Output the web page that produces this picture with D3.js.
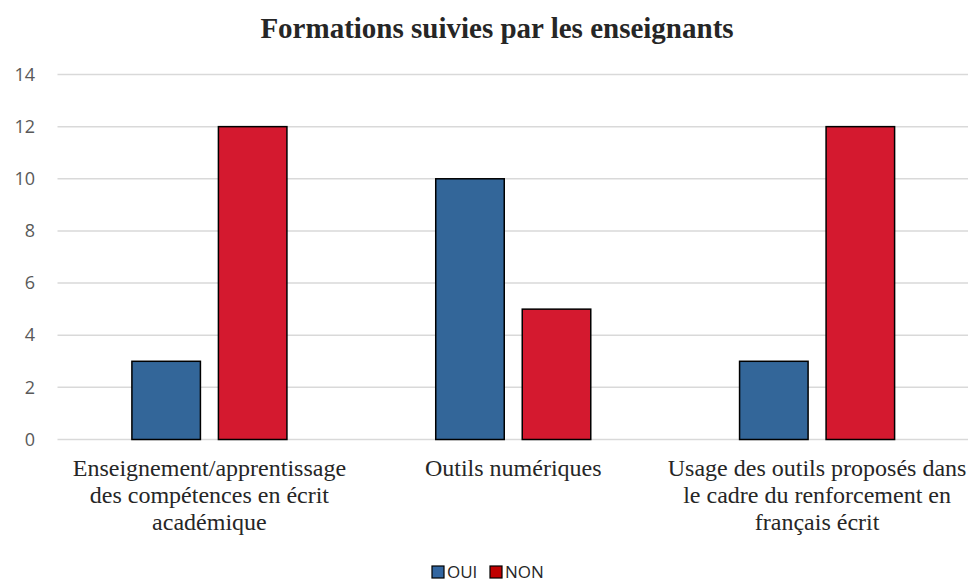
<!DOCTYPE html>
<html>
<head>
<meta charset="utf-8">
<script src="https://cdn.jsdelivr.net/npm/d3@7"></script>
<style>
  body { margin: 0; background: #fff; }
  svg { display: block; }
</style>
</head>
<body>
<div class="chart"></div>
<script>
// data
var categories = [
  "Enseignement/apprentissage des compétences en écrit académique",
  "Outils numériques",
  "Usage des outils proposés dans le cadre du renforcement en français écrit"
];
// wrapped label lines, as shown under each group
var categoryLines = [
  ["Enseignement/apprentissage", "des compétences en écrit", "académique"],
  ["Outils numériques"],
  ["Usage des outils proposés dans", "le cadre du renforcement en", "français écrit"]
];
var seriesNames = ["OUI", "NON"];
var oui = [3, 10, 3];
var non = [12, 5, 12];
var yTicks = [0, 2, 4, 6, 8, 10, 12, 14];

var width = 968, height = 584;
var barColors = { OUI: "#336699", NON: "#D4192F" };
var legendColors = { OUI: "#3366A0", NON: "#C00000" };

var svg = d3.select(".chart").append("svg")
    .attr("width", width)
    .attr("height", height);

// title
svg.append("text")
  .attr("x", 497)
  .attr("y", 38)
  .attr("text-anchor", "middle")
  .style("font-family", "'Liberation Serif', 'Times New Roman', serif")
  .style("font-weight", "bold")
  .style("font-size", "29px")
  .style("fill", "#262626")
  .text("Formations suivies par les enseignants");

var x = d3.scaleBand()
    .domain(categories)
    .range([57.5, 969]);

var y = d3.scaleLinear()
    .domain([0, 14])
    .range([439.5, 74.5]);

// grid lines
svg.append("g").selectAll("line")
  .data(yTicks)
  .enter().append("line")
    .attr("x1", 57.5)
    .attr("x2", width)
    .attr("y1", function(d) { return y(d); })
    .attr("y2", function(d) { return y(d); })
    .attr("stroke", "#d9d9d9")
    .attr("stroke-width", 1.5);

// y axis labels
var yAxis = d3.axisLeft(y).tickValues(yTicks).tickSize(0).tickPadding(0);
var yg = svg.append("g")
    .attr("transform", "translate(35,0)")
    .call(yAxis);
yg.select(".domain").remove();
yg.selectAll("text")
  .style("font-family", "'Open Sans', 'Liberation Sans', sans-serif")
  .style("font-size", "18px")
  .style("fill", "#595959");

// bars
var rows = categories.map(function(c, i) {
  return { cat: c, values: [ { key: "OUI", v: oui[i] }, { key: "NON", v: non[i] } ] };
});

var inner = d3.scaleBand()
    .domain(seriesNames)
    .range([0, x.bandwidth()])
    .paddingInner(0.208)
    .paddingOuter(0.86);

var groups = svg.append("g").selectAll("g")
  .data(rows)
  .enter().append("g")
    .attr("transform", function(d) { return "translate(" + x(d.cat) + ",0)"; });

groups.selectAll("rect")
  .data(function(d) { return d.values; })
  .enter().append("rect")
    .attr("x", function(d) { return inner(d.key); })
    .attr("y", function(d) { return y(d.v); })
    .attr("width", inner.bandwidth())
    .attr("height", function(d) { return y(0) - y(d.v); })
    .attr("fill", function(d) { return barColors[d.key]; })
    .attr("stroke", "#000")
    .attr("stroke-width", 1.5);

// category labels
var labels = svg.append("g").selectAll("text")
  .data(categories)
  .enter().append("text")
    .attr("x", function(d) { return x(d) + x.bandwidth() / 2; })
    .attr("y", 476)
    .attr("text-anchor", "middle")
    .style("font-family", "'Liberation Serif', 'Times New Roman', serif")
    .style("font-size", "24px")
    .style("fill", "#262626");

labels.each(function(d, i) {
  var t = d3.select(this);
  categoryLines[i].forEach(function(line, j) {
    t.append("tspan")
      .attr("x", x(d) + x.bandwidth() / 2)
      .attr("dy", j === 0 ? 0 : 27)
      .text(line);
  });
});

// legend
var legendX = [432, 490];
var legend = svg.append("g").selectAll("g")
  .data(seriesNames)
  .enter().append("g")
    .attr("transform", function(d, i) { return "translate(" + legendX[i] + ",566)"; });

legend.append("rect")
  .attr("width", 12)
  .attr("height", 12)
  .attr("fill", function(d) { return legendColors[d]; })
  .attr("stroke", "#000")
  .attr("stroke-width", 1.2);

legend.append("text")
  .attr("x", 15)
  .attr("y", 12)
  .style("font-family", "'Open Sans', 'Liberation Sans', sans-serif")
  .style("font-size", "17px")
  .style("fill", "#262626")
  .text(function(d) { return d; });
</script>
</body>
</html>
